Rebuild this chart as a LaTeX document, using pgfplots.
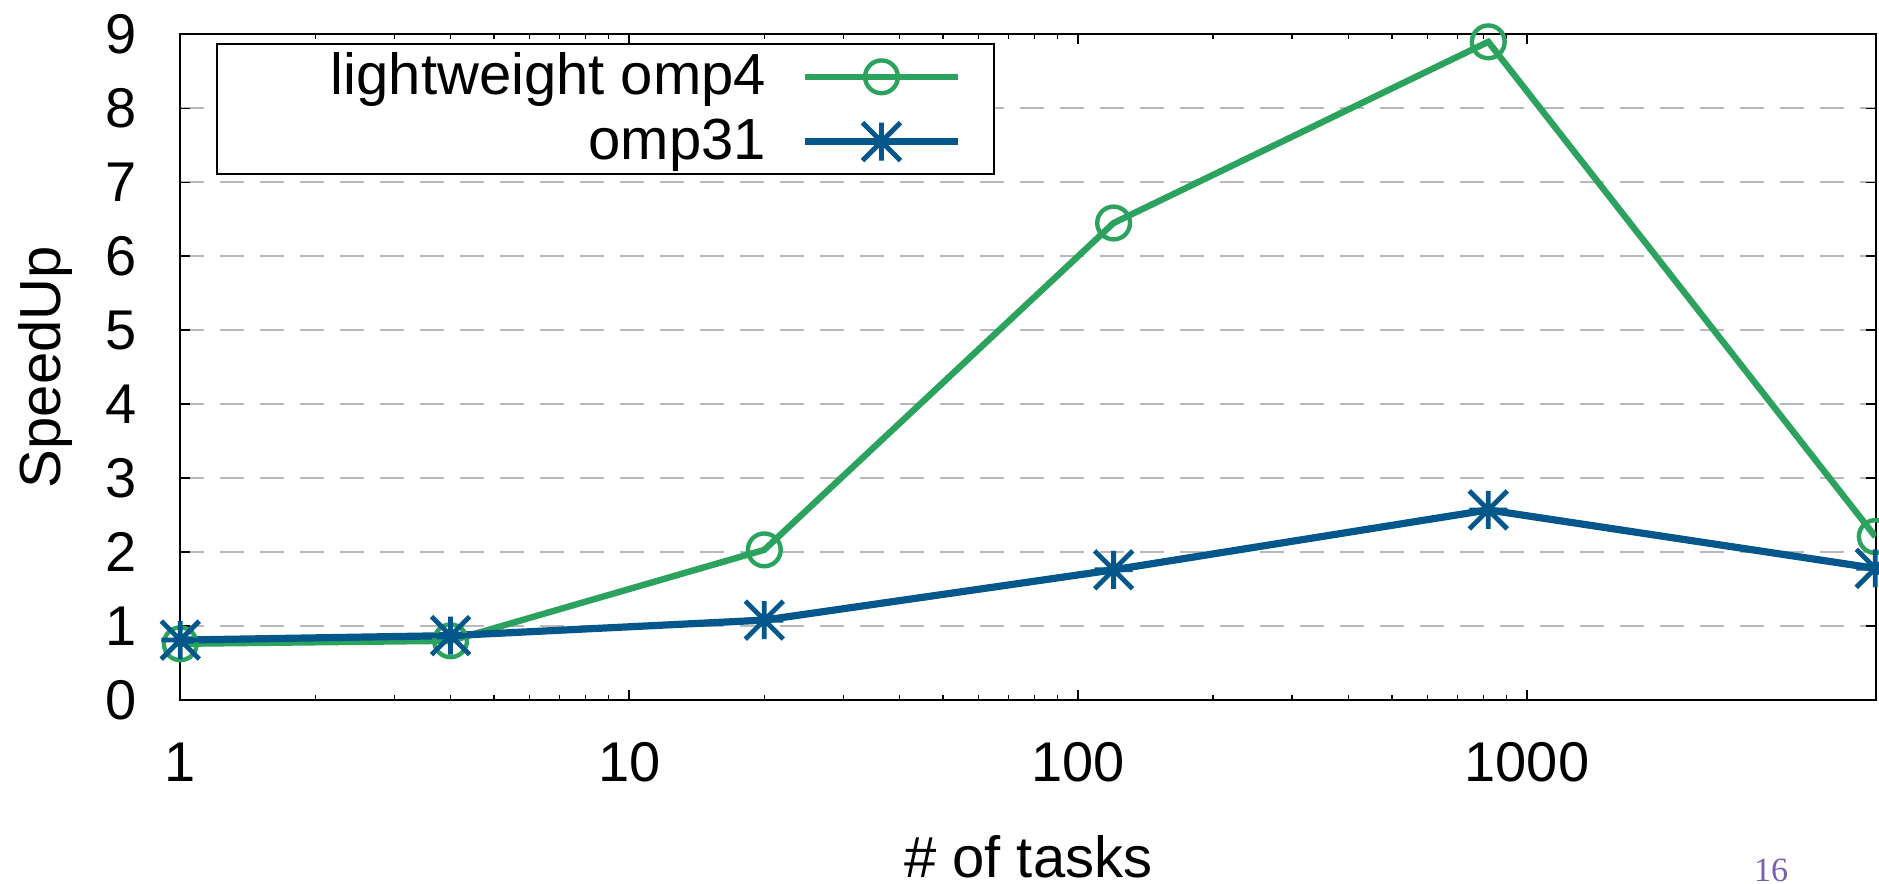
\documentclass[border=0pt]{standalone}
\usepackage{fontspec}
\setmainfont{Liberation Sans}
\newfontfamily\seriffont{Liberation Serif}
\usepackage{pgfplots}
\pgfplotsset{compat=1.18}
\definecolor{gpgreen}{RGB}{44,162,95}
\definecolor{gpblue}{RGB}{3,87,139}
\definecolor{pagepurple}{RGB}{120,95,175}
\pgfdeclareplotmark{gpstar}{%
  \pgfpathmoveto{\pgfqpoint{-\pgfplotmarksize}{0pt}}\pgfpathlineto{\pgfqpoint{\pgfplotmarksize}{0pt}}%
  \pgfpathmoveto{\pgfqpoint{0pt}{-\pgfplotmarksize}}\pgfpathlineto{\pgfqpoint{0pt}{\pgfplotmarksize}}%
  \pgfpathmoveto{\pgfqpoint{-\pgfplotmarksize}{-\pgfplotmarksize}}\pgfpathlineto{\pgfqpoint{\pgfplotmarksize}{\pgfplotmarksize}}%
  \pgfpathmoveto{\pgfqpoint{-\pgfplotmarksize}{\pgfplotmarksize}}\pgfpathlineto{\pgfqpoint{\pgfplotmarksize}{-\pgfplotmarksize}}%
  \pgfusepathqstroke}
\begin{document}
\begin{tikzpicture}
\begin{axis}[
  at={(0,0)}, anchor=south west,
  scale only axis, width=424pt, height=166.4pt,
  xmode=log, xmin=1, xmax=6000, ymin=0, ymax=9,
  xtick={1,10,100,1000}, xticklabels={1,10,100,1000},
  ytick={0,1,...,9},
  /pgf/number format/assume math mode=true,
  tick label style={font=\fontsize{14}{16}\selectfont},
  xticklabel style={anchor=base, yshift=-20.5pt},
  yticklabel style={anchor=east, inner sep=0pt, xshift=-10.8pt},
  major tick length=2.5pt, minor tick length=1.2pt,
  tick style={black, line width=0.4pt},
  axis line style={black, line width=0.5pt},
  ymajorgrids, grid style={gray!55, dash pattern=on 6pt off 4pt, line width=0.5pt},
  xlabel={\# of tasks}, ylabel={SpeedUp},
  every axis x label/.style={at={(axis description cs:0.5,-0.266)}, anchor=base, font=\fontsize{14.5}{17}\selectfont},
  every axis y label/.style={at={(axis description cs:-0.0708,0.5)}, anchor=base, rotate=90, font=\fontsize{14.5}{17}\selectfont},
  legend plot pos=right, legend cell align=right,
  legend style={at={(axis description cs:0,1)}, anchor=north west, xshift=8.9pt, yshift=-2.25pt,
    inner xsep=8pt, inner ysep=0pt, draw=black, line width=0.5pt, fill=white,
    /tikz/column sep=8.8pt, font=\fontsize{14.5}{17}\selectfont,
    nodes={inner xsep=0pt, inner ysep=1.1pt, text height=11.4pt, text depth=2.6pt}},
  legend image code/.code={\draw[mark repeat=2, mark phase=2] plot coordinates {(0pt,0pt) (19.15pt,0pt) (38.3pt,0pt)};},
]
\addplot[color=gpgreen, line width=1.6pt, mark=o, mark size=4.1pt, mark options={line width=1.1pt, solid}]
  coordinates {(1,0.76) (4,0.80) (20,2.03) (120,6.45) (820,8.90) (5970,2.21)};
\addlegendentry{\makebox[129.3pt][r]{lightweight omp4}}
\addplot[color=gpblue, line width=1.8pt, mark=gpstar, mark size=4.75pt, mark options={line width=1.2pt, solid}]
  coordinates {(1,0.81) (4,0.87) (20,1.08) (120,1.76) (820,2.57) (5970,1.78)};
\addlegendentry{\makebox[129.3pt][r]{omp31}}
\end{axis}
\node[anchor=south, inner sep=0pt, text=pagepurple, font=\seriffont\fontsize{8.5}{10}\selectfont] at (397.7pt,-45.6pt) {16};
\pgfresetboundingbox
\path[use as bounding box] (-45.075pt,-46pt) rectangle (424.675pt,175pt);
\end{tikzpicture}
\end{document}
